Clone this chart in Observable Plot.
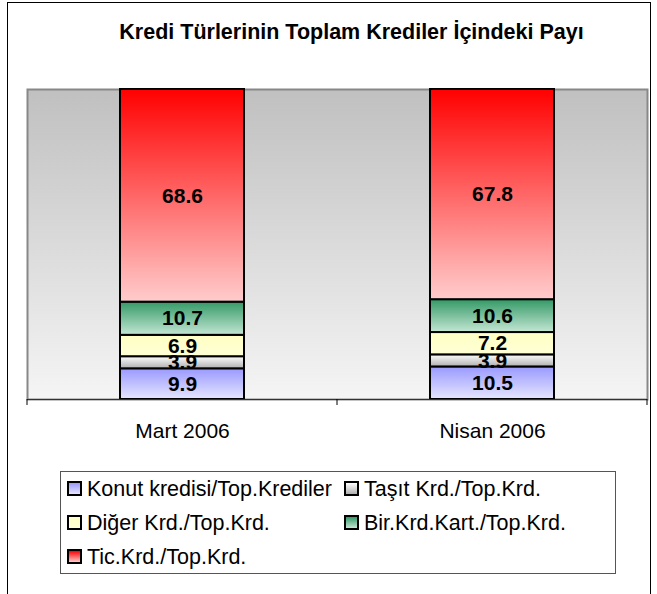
<!DOCTYPE html>
<html>
<head>
<meta charset="utf-8">
<script src="https://cdn.jsdelivr.net/npm/d3@7"></script>
<script src="https://cdn.jsdelivr.net/npm/@observablehq/plot@0.6"></script>
<style>
  html, body { margin: 0; padding: 0; background: #fff; }
  body { font-family: "Liberation Sans", Arial, sans-serif; }
  #wrap { position: relative; width: 657px; height: 594px; overflow: hidden; }
  #border { position: absolute; left: 7px; top: 2px; width: 644px; height: 620px; border: 1px solid #000; box-sizing: border-box; }
  #title { position: absolute; left: 0; width: 703px; top: 20px; text-align: center; font-weight: bold; font-size: 21.5px; line-height: 25px; color: #000; }
  #chart { position: absolute; left: 0; top: 0; }
  #legend { position: absolute; left: 60px; top: 471px; width: 556px; height: 103px; border: 1px solid #555; box-sizing: border-box; }
  .item { position: absolute; font-size: 21.5px; color: #000; white-space: nowrap; line-height: 24px; }
  .sw { display: inline-block; width: 11px; height: 11px; border: 2px solid #000; vertical-align: 0px; margin-right: 5px; }
</style>
</head>
<body>
<div id="wrap">
  <div id="border"></div>
  <div id="chart"></div>
  <div id="title">Kredi Türlerinin Toplam Krediler İçindeki Payı</div>
  <div id="legend"></div>
</div>
<script>
const categories = ["Mart 2006", "Nisan 2006"];
const series = ["Konut kredisi/Top.Krediler", "Taşıt Krd./Top.Krd.", "Diğer Krd./Top.Krd.", "Bir.Krd.Kart./Top.Krd.", "Tic.Krd./Top.Krd."];
const martValues = [9.9, 3.9, 6.9, 10.7, 68.6];
const nisanValues = [10.5, 3.9, 7.2, 10.6, 67.8];
const gradientStops = [
  ["#9999ff", "#e6e6ff"],
  ["#ffffff", "#b0b0b0"],
  ["#ffffc4", "#ffffd6"],
  ["#339966", "#c4e6d4"],
  ["#ff0000", "#ffcccc"]
];

const valuesByCat = [martValues, nisanValues];
const data = categories.flatMap((c, i) => series.map((s, j) => ({cat: c, series: s, value: valuesByCat[i][j]})));
const gradIds = series.map((s, i) => "g" + i);

const boundaryTicks = (index, scales, values, dims) => {
  const x = scales.x, y = scales.y;
  const bw = x.bandwidth();
  const step = x(categories[1]) - x(categories[0]);
  const half = (step - bw) / 2;
  const pos = categories.map(c => x(c) - half);
  pos.push(x(categories[categories.length - 1]) + bw + half);
  const g = d3.create("svg:g");
  const y0 = y(0);
  for (const p of pos) {
    g.append("line").attr("x1", p).attr("x2", p).attr("y1", y0).attr("y2", y0 + 6).attr("stroke", "#000").attr("stroke-width", 1);
  }
  return g.node();
};

const chart = Plot.plot({
  width: 657,
  height: 445,
  marginLeft: 27,
  marginRight: 10,
  marginTop: 89,
  marginBottom: 46,
  style: {fontFamily: "'Liberation Sans', Arial, sans-serif", background: "transparent", color: "#000"},
  x: {domain: categories, paddingInner: 0.6, paddingOuter: 0.3, label: null},
  y: {domain: [0, 100], axis: null},
  color: {domain: series, range: gradIds.map(id => `url(#${id})`)},
  marks: [
    Plot.frame({fill: "url(#bg)", stroke: "#888", strokeWidth: 2}),
    Plot.barY(data, Plot.stackY({x: "cat", y: "value", z: "series", fill: "series", order: series, stroke: "#000", strokeWidth: 2})),
    Plot.text(data, Plot.stackY({x: "cat", y: "value", z: "series", order: series, text: d => d.value.toFixed(1), fontSize: 21, fontWeight: "bold", fill: "#000"})),
    Plot.ruleY([0], {stroke: "#333", strokeWidth: 1.2}),
    boundaryTicks,
    Plot.axisX({tickSize: 0, tickPadding: 24, fontSize: 21, label: null})
  ]
});

const svg = d3.select(chart);
const defs = svg.insert("defs", ":first-child");
const bg = defs.append("linearGradient").attr("id", "bg").attr("x1", 0).attr("y1", 0).attr("x2", 0).attr("y2", 1);
bg.append("stop").attr("offset", "0%").attr("stop-color", "#c0c0c0");
bg.append("stop").attr("offset", "100%").attr("stop-color", "#f5f5f5");
gradIds.forEach((id, i) => {
  const lg = defs.append("linearGradient").attr("id", id).attr("x1", 0).attr("y1", 0).attr("x2", 0).attr("y2", 1);
  lg.append("stop").attr("offset", "0%").attr("stop-color", gradientStops[i][0]);
  lg.append("stop").attr("offset", "100%").attr("stop-color", gradientStops[i][1]);
});
document.getElementById("chart").appendChild(chart);

const legend = document.getElementById("legend");
const legendPos = [[6, 5], [283, 5], [6, 39], [283, 39], [6, 73]];
series.forEach((s, i) => {
  const el = document.createElement("div");
  el.className = "item";
  el.style.left = legendPos[i][0] + "px";
  el.style.top = legendPos[i][1] + "px";
  const sw = document.createElement("span");
  sw.className = "sw";
  sw.style.background = `linear-gradient(${gradientStops[i][0]}, ${gradientStops[i][1]})`;
  el.appendChild(sw);
  el.appendChild(document.createTextNode(s));
  legend.appendChild(el);
});
</script>
</body>
</html>
